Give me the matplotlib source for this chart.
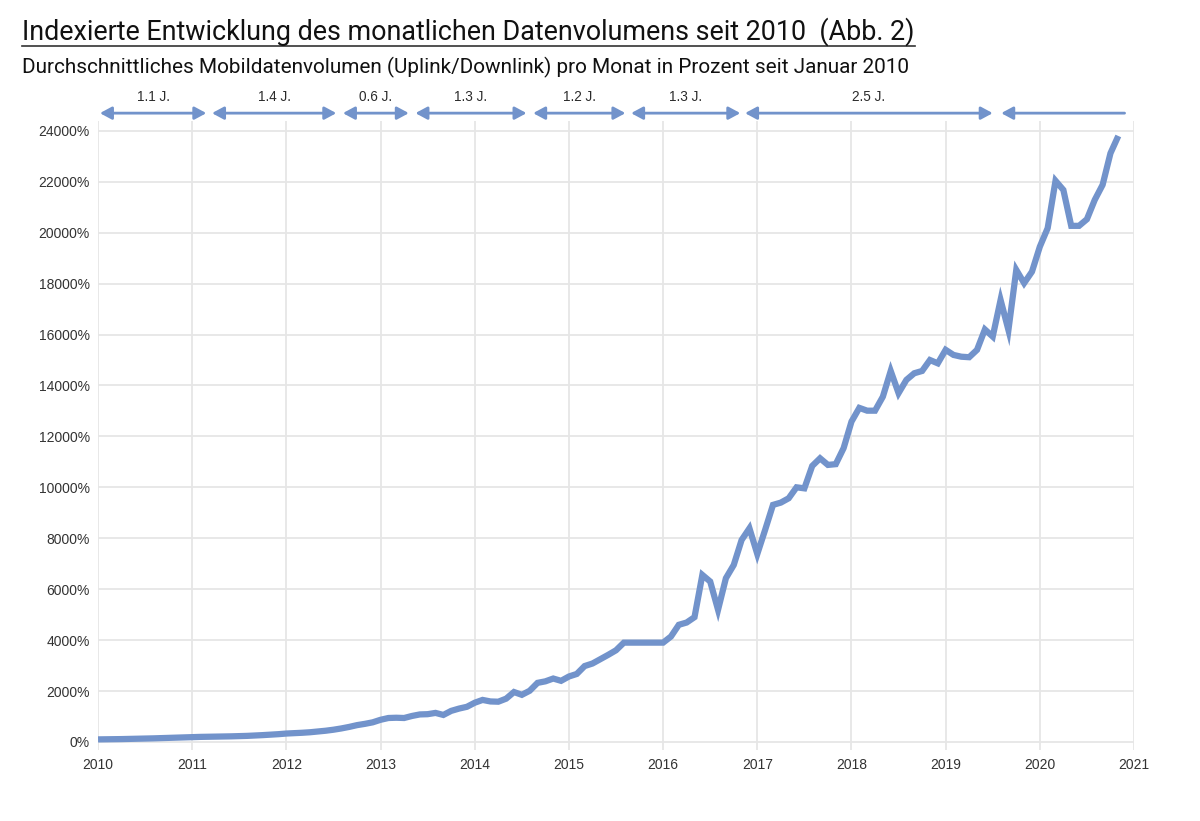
import numpy as np
import matplotlib
matplotlib.use("Agg")
import matplotlib.pyplot as plt
from matplotlib import font_manager
import matplotlib.transforms as mtransforms

# Index des monatlichen Datenvolumens (Jan 2010 = 100 %)
vals_2010 = [100, 103, 108, 112, 118, 125, 132, 140, 150, 160, 170, 180]
vals_2011 = [192, 198, 203, 208, 214, 220, 228, 238, 252, 268, 285, 305]
vals_2012 = [330, 345, 360, 380, 410, 440, 480, 530, 590, 660, 710, 770]
vals_2013 = [870, 940, 950, 940, 1020, 1080, 1090, 1140, 1060, 1220, 1310, 1380]
vals_2014 = [1540, 1650, 1590, 1580, 1700, 1960, 1850, 2010, 2320, 2380, 2490, 2400]
vals_2015 = [2570, 2670, 2980, 3080, 3250, 3420, 3600, 3900, 3900, 3900, 3900, 3900]
vals_2016 = [3900, 4140, 4600, 4690, 4900, 6560, 6300, 5190, 6430, 6950, 7930, 8390]
vals_2017 = [7380, 8330, 9310, 9400, 9570, 10000, 9960, 10840, 11140, 10880, 10910, 11540]
vals_2018 = [12580, 13120, 13010, 13010, 13560, 14570, 13700, 14220, 14480, 14570, 15000, 14870]
vals_2019 = [15400, 15200, 15130, 15110, 15400, 16200, 15920, 17360, 16180, 18540, 18020, 18470]
vals_2020 = [19450, 20180, 22040, 21680, 20270, 20270, 20530, 21290, 21880, 23120, 23800]

index_values = (vals_2010 + vals_2011 + vals_2012 + vals_2013 + vals_2014 + vals_2015
                + vals_2016 + vals_2017 + vals_2018 + vals_2019 + vals_2020)

# Verdopplungszeiten (Start/Ende in Jahren)
span_start = [2010.02, 2011.21, 2012.60, 2013.37, 2014.62, 2015.66, 2016.87, 2019.59]
span_end = [2011.15, 2012.53, 2013.30, 2014.55, 2015.60, 2016.82, 2019.50, 2020.90]
span_labels = ["1.1 J.", "1.4 J.", "0.6 J.", "1.3 J.", "1.2 J.", "1.3 J.", "2.5 J.", ""]

year_ticks = list(range(2010, 2022))
y_ticks = list(range(0, 24001, 2000))

title = "Indexierte Entwicklung des monatlichen Datenvolumens seit 2010  (Abb. 2)"
subtitle = "Durchschnittliches Mobildatenvolumen (Uplink/Downlink) pro Monat in Prozent seit Januar 2010"

installed = {f.name for f in font_manager.fontManager.ttflist}
def pick(cands):
    for c in cands:
        if c in installed:
            return c
    return "DejaVu Sans"

head_font = pick(["Roboto", "Liberation Sans", "DejaVu Sans"])
plain = pick(["Liberation Sans", "Roboto", "DejaVu Sans"])
plt.rcParams['font.family'] = [plain, 'DejaVu Sans']

blue = '#7293CB'

fig = plt.figure(figsize=(12, 8.21), dpi=100)
ax = fig.add_axes([0.0817, 0.087, 0.8633, 0.766])

x = 2010 + np.arange(len(index_values)) / 12
ax.plot(x, index_values, color=blue, lw=4.5, solid_joinstyle='miter', solid_capstyle='butt', zorder=3)

ax.set_xlim(2010, 2021)
ax.set_ylim(-300, 24400)
ax.set_xticks(year_ticks)
ax.set_xticklabels([str(y) for y in year_ticks])
ax.set_yticks(y_ticks)
ax.set_yticklabels([f"{v}%" for v in y_ticks])
ax.tick_params(length=0, labelsize=10, colors='#333333', pad=6)
ax.grid(True, color='#e6e6e6', lw=1.3)
ax.set_axisbelow(True)
for s in ax.spines.values():
    s.set_visible(False)

trans = mtransforms.blended_transform_factory(ax.transData, ax.transAxes)
head = ',head_length=0.5,head_width=0.27'
for a, b, lab in zip(span_start, span_end, span_labels):
    style = ('<|-|>' if lab else '<|-') + head
    ax.annotate('', xy=(b, 1.012), xytext=(a, 1.012), xycoords=trans, textcoords=trans,
                annotation_clip=False,
                arrowprops=dict(arrowstyle=style, color=blue, lw=2.0, mutation_scale=14,
                                shrinkA=0, shrinkB=0))
    if lab:
        ax.text((a + b) / 2, 1.038, lab, transform=trans, ha='center', va='center',
                fontsize=9.8, color='#2b2b2b')

t1 = fig.text(22 / 1200, 1 - 39.5 / 821, title, fontsize=17.5, family=[head_font, 'DejaVu Sans'],
              color='#111111', va='baseline', ha='left')
t2 = fig.text(22 / 1200, 1 - 73.5 / 821, subtitle, fontsize=13, family=[head_font, 'DejaVu Sans'],
              color='#111111', va='baseline', ha='left')

# Schriftgröße an die Breite im Original anpassen
renderer = fig.canvas.get_renderer()
for t, target in ((t1, 890), (t2, 886)):
    w = t.get_window_extent(renderer).width
    t.set_fontsize(t.get_fontsize() * target / w)

fig.add_artist(plt.Line2D([22 / 1200, 915 / 1200], [1 - 46 / 821, 1 - 46 / 821],
                          color='#333333', lw=1.2, transform=fig.transFigure))

fig.savefig('out.png', dpi=100, facecolor='white')
